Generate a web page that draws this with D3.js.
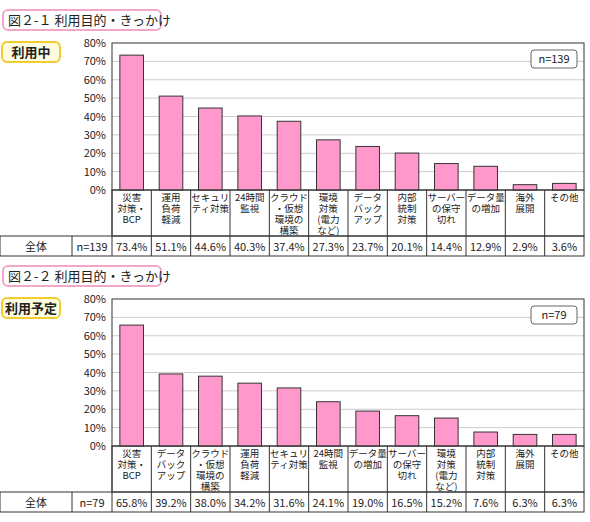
<!DOCTYPE html>
<html lang="ja">
<head>
<meta charset="utf-8">
<script src="https://d3js.org/d3.v7.min.js"></script>
<style>
  body { margin: 0; background: #fff; }
  text { font-family: "Noto Sans CJK JP", sans-serif; font-size: 11px; fill: #222; }
</style>
</head>
<body>
<div id="chart"></div>
<script>
"use strict";

// 図2-1 利用中
var cats1 = [["災害","対策・","BCP"],["運用","負荷","軽減"],["セキュリ","ティ対策"],["24時間","監視"],
  ["クラウド","・仮想","環境の","構築"],["環境","対策","(電力","など)"],["データ","バック","アップ"],
  ["内部","統制","対策"],["サーバー","の保守","切れ"],["データ量","の増加"],["海外","展開"],["その他"]];
var vals1 = [73.4, 51.1, 44.6, 40.3, 37.4, 27.3, 23.7, 20.1, 14.4, 12.9, 2.9, 3.6];

// 図2-2 利用予定
var cats2 = [["災害","対策・","BCP"],["データ","バック","アップ"],["クラウド","・仮想","環境の","構築"],
  ["運用","負荷","軽減"],["セキュリ","ティ対策"],["24時間","監視"],["データ量","の増加"],["サーバー","の保守","切れ"],
  ["環境","対策","(電力","など)"],["内部","統制","対策"],["海外","展開"],["その他"]];
var vals2 = [65.8, 39.2, 38.0, 34.2, 31.6, 24.1, 19.0, 16.5, 15.2, 7.6, 6.3, 6.3];

var yTicks = [0, 10, 20, 30, 40, 50, 60, 70, 80];

var svg = d3.select("#chart").append("svg").attr("width", 590).attr("height", 522);

function panel(top, title, badge, cats, vals, n) {
  var g = svg.append("g").attr("transform", "translate(0," + top + ")");
  // タイトル
  g.append("rect").attr("x", 3).attr("y", 0).attr("width", 158).attr("height", 20).attr("rx", 5)
    .attr("fill", "#fff").attr("stroke", "#f2a6c8").attr("stroke-width", 2);
  g.append("text").attr("x", 8).attr("y", 15).style("font-size", "13px").text(title);
  g.append("rect").attr("x", 2).attr("y", 32).attr("width", 58).attr("height", 20).attr("rx", 5)
    .attr("fill", "#fffde0").attr("stroke", "#f2cc30").attr("stroke-width", 2);
  g.append("text").attr("x", 31).attr("y", 47).attr("text-anchor", "middle").style("font-size", "13px").style("font-weight", "bold").text(badge);

  var x0 = 112, x1 = 584, yTop = 33, yBot = 180, labBot = 226, rowBot = 246;
  var x = d3.scaleBand().domain(d3.range(cats.length)).range([x0, x1]).paddingInner(0).paddingOuter(0);
  var y = d3.scaleLinear().domain([0, 80]).range([yBot, yTop]);

  g.selectAll(".grid").data(yTicks.slice(1, -1)).enter().append("line")
    .attr("x1", x0).attr("x2", x1).attr("y1", d => y(d)).attr("y2", d => y(d))
    .attr("stroke", "#ccc");
  g.append("rect").attr("x", x0).attr("y", yTop).attr("width", x1 - x0).attr("height", yBot - yTop)
    .attr("fill", "none").attr("stroke", "#333");

  var ax = g.append("g").attr("transform", "translate(" + x0 + ",0)")
    .call(d3.axisLeft(y).tickValues(yTicks).tickSize(0).tickPadding(6).tickFormat(d => d + "%"));
  ax.select(".domain").remove();
  ax.selectAll("text").style("font-size", "11px").attr("fill", "#222");

  var bw = x.bandwidth() * 0.6;
  g.selectAll(".bar").data(vals).enter().append("rect")
    .attr("x", (d, i) => x(i) + (x.bandwidth() - bw) / 2).attr("y", d => y(d))
    .attr("width", bw).attr("height", d => y(0) - y(d))
    .attr("fill", "#ff99cc").attr("stroke", "#333");

  // ラベル枠と表
  g.append("rect").attr("x", x0).attr("y", yBot).attr("width", x1 - x0).attr("height", labBot - yBot)
    .attr("fill", "none").attr("stroke", "#333");
  g.append("rect").attr("x", 0).attr("y", labBot).attr("width", x1).attr("height", rowBot - labBot)
    .attr("fill", "none").attr("stroke", "#333");
  g.append("line").attr("x1", 72).attr("x2", 72).attr("y1", labBot).attr("y2", rowBot).attr("stroke", "#333");
  cats.forEach(function (c, i) {
    g.append("line").attr("x1", x(i)).attr("x2", x(i)).attr("y1", yBot).attr("y2", rowBot).attr("stroke", "#333");
    var t = g.append("text").attr("text-anchor", "middle").style("font-size", "9.5px");
    c.forEach(function (line, k) {
      t.append("tspan").attr("x", x(i) + x.bandwidth() / 2).attr("y", yBot + 11 + k * 11).text(line);
    });
    g.append("text").attr("x", x(i) + x.bandwidth() / 2).attr("y", rowBot - 5).attr("text-anchor", "middle")
      .text(vals[i].toFixed(1) + "%");
  });
  g.append("text").attr("x", 36).attr("y", rowBot - 5).attr("text-anchor", "middle").text("全体");
  g.append("text").attr("x", 92).attr("y", rowBot - 5).attr("text-anchor", "middle").text("n=" + n);

  // n= 凡例
  g.append("rect").attr("x", 531).attr("y", 40).attr("width", 46).attr("height", 18).attr("rx", 3)
    .attr("fill", "#fff").attr("stroke", "#666");
  g.append("text").attr("x", 554).attr("y", 53).attr("text-anchor", "middle").text("n=" + n);
}

panel(10, "図２-１ 利用目的・きっかけ", "利用中", cats1, vals1, 139);
panel(266, "図２-２ 利用目的・きっかけ", "利用予定", cats2, vals2, 79);
</script>
</body>
</html>
